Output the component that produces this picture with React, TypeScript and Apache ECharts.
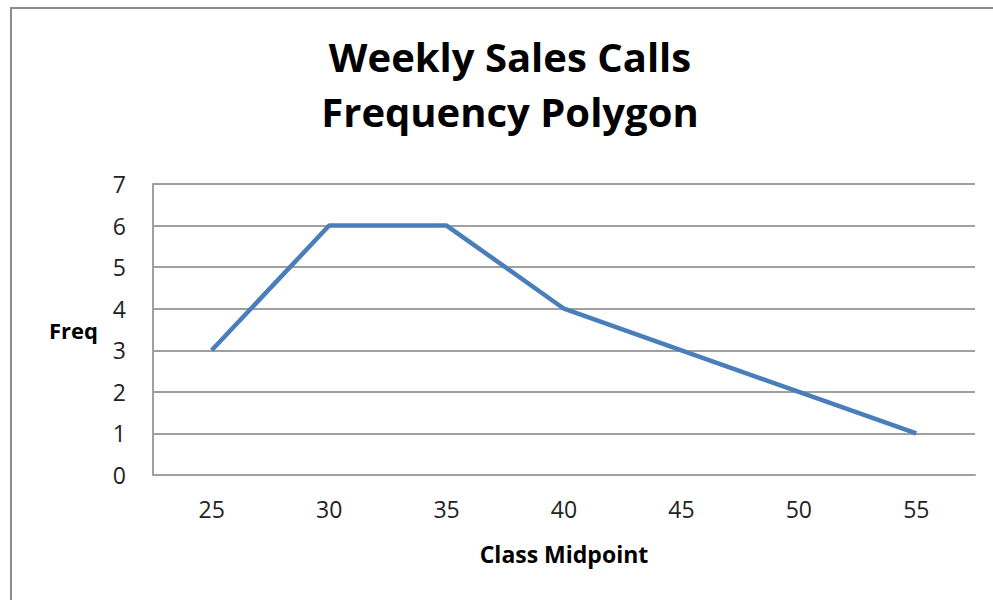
import React, { useEffect, useRef } from "react";
import * as echarts from "echarts";

const categories = ["25", "30", "35", "40", "45", "50", "55"];
const freqValues = [3, 6, 6, 4, 3, 2, 1];
const titleText = "Weekly Sales Calls\nFrequency Polygon";
const xName = "Class Midpoint";
const yName = "Freq";

const FONT = "'Open Sans', sans-serif";

export default function App() {
  const ref = useRef<HTMLDivElement>(null);
  useEffect(() => {
    if (!ref.current) return;
    const chart = echarts.init(ref.current, null, { renderer: "svg" });
    chart.setOption({
      animation: false,
      backgroundColor: "#ffffff",
      title: {
        text: titleText,
        left: 505,
        top: 24,
        textAlign: "center",
        textStyle: {
          fontFamily: FONT,
          fontWeight: "bold",
          fontSize: 40,
          lineHeight: 55,
          color: "#000000",
        },
      },
      graphic: [
        {
          type: "rect",
          shape: { x: 11, y: 8, width: 1100, height: 800 },
          style: { fill: "none", stroke: "#8c8c8c", lineWidth: 2 },
          silent: true,
          z: -1,
        },
      ],
      grid: { left: 153, right: 18, top: 184, bottom: 125 },
      xAxis: {
        type: "category",
        data: categories,
        boundaryGap: true,
        name: xName,
        nameLocation: "middle",
        nameGap: 67,
        nameTextStyle: { fontFamily: FONT, fontWeight: "bold", fontSize: 23, color: "#000" },
        axisLine: { show: true, lineStyle: { color: "#a0a0a0", width: 2 } },
        axisTick: { show: false },
        axisLabel: { fontFamily: FONT, fontSize: 23, color: "#222", margin: 22 },
      },
      yAxis: {
        type: "value",
        min: 0,
        max: 7,
        interval: 1,
        name: yName,
        nameLocation: "middle",
        nameRotate: 0,
        nameGap: 55,
        nameTextStyle: { fontFamily: FONT, fontWeight: "bold", fontSize: 22, color: "#000" },
        axisLine: { show: true, lineStyle: { color: "#a0a0a0", width: 2 } },
        axisTick: { show: false },
        axisLabel: { fontFamily: FONT, fontSize: 23, color: "#222", margin: 27 },
        splitLine: { show: true, lineStyle: { color: "#a0a0a0", width: 2 } },
      },
      series: [
        {
          type: "line",
          data: freqValues,
          showSymbol: false,
          lineStyle: { color: "#4a7ebb", width: 4.5 },
          itemStyle: { color: "#4a7ebb" },
        },
      ],
    });
    return () => chart.dispose();
  }, []);
  return (
    <div
      ref={ref}
      style={{ position: "fixed", left: 0, top: 0, width: 993, height: 600 }}
    />
  );
}
